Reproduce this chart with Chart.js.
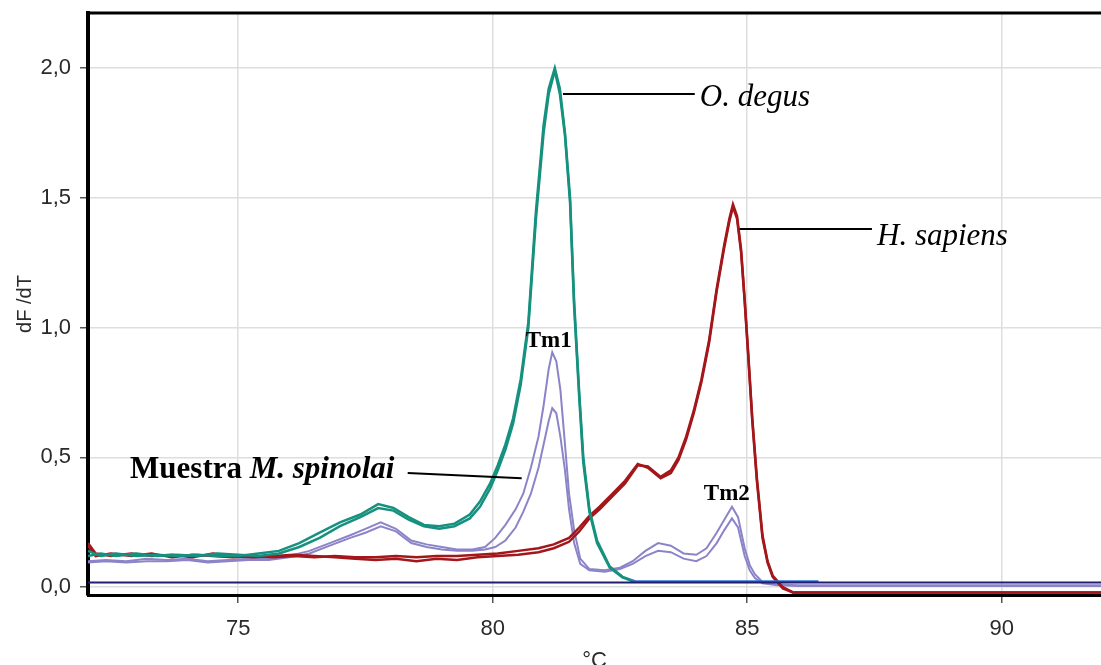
<!DOCTYPE html>
<html><head><meta charset="utf-8">
<script src="https://cdn.jsdelivr.net/npm/chart.js@4"></script>
<style>html,body{margin:0;padding:0;background:#fff}canvas{display:block}</style>
</head><body>
<canvas id="c" width="1101" height="665"></canvas>
<script>
// ---- tick values ----
const X_TICKS = [75, 80, 85, 90];
const Y_TICKS = [0, 0.5, 1, 1.5, 2];

// ---- O. degus (two replicates) ----
const DEGUS_T = [72.05,72.3,72.6,73.0,73.4,73.8,74.2,74.6,75.0,75.4,75.8,76.2,76.6,77.0,77.4,77.75,78.05,78.35,78.65,78.95,79.25,79.55,79.75,79.95,80.1,80.25,80.4,80.55,80.7,80.85,81.0,81.1,81.22,81.32,81.42,81.52,81.6,81.7,81.78,81.9,82.05,82.3,82.55,82.8];
const DEGUS_A = [0.14,0.12,0.13,0.12,0.125,0.12,0.125,0.12,0.12,0.13,0.14,0.17,0.21,0.25,0.28,0.32,0.305,0.27,0.24,0.235,0.245,0.28,0.33,0.40,0.47,0.55,0.65,0.80,1.02,1.45,1.78,1.92,2.0,1.92,1.75,1.5,1.1,0.75,0.5,0.3,0.18,0.08,0.04,0.022];
const DEGUS_B = [0.12,0.13,0.12,0.13,0.12,0.125,0.12,0.13,0.125,0.12,0.13,0.155,0.19,0.235,0.27,0.305,0.295,0.26,0.235,0.225,0.235,0.265,0.31,0.38,0.45,0.53,0.63,0.78,1.0,1.42,1.75,1.9,1.99,1.9,1.74,1.48,1.08,0.73,0.48,0.29,0.17,0.075,0.038,0.02];

// ---- H. sapiens (two replicates) ----
const SAPIENS_T = [72.05,72.2,72.5,72.9,73.3,73.7,74.1,74.5,74.9,75.3,75.7,76.1,76.5,76.9,77.3,77.7,78.1,78.5,78.9,79.3,79.7,80.1,80.5,80.9,81.2,81.5,81.7,81.9,82.1,82.35,82.6,82.85,83.05,83.3,83.5,83.65,83.8,83.95,84.1,84.25,84.4,84.55,84.65,84.72,84.8,84.88,84.95,85.02,85.1,85.19,85.3,85.4,85.5,85.7,85.9,86.5,87.5,88.5,89.5,90.5,91.5,91.95];
const SAPIENS_A = [0.17,0.13,0.12,0.13,0.12,0.125,0.115,0.13,0.12,0.115,0.12,0.125,0.12,0.115,0.11,0.105,0.11,0.10,0.11,0.105,0.115,0.12,0.125,0.135,0.15,0.175,0.215,0.265,0.30,0.35,0.40,0.47,0.465,0.425,0.45,0.50,0.58,0.68,0.80,0.95,1.15,1.32,1.42,1.475,1.43,1.3,1.11,0.9,0.65,0.42,0.2,0.1,0.045,0.0,-0.02,-0.02,-0.02,-0.02,-0.02,-0.02,-0.02,-0.02];
const SAPIENS_B = [0.16,0.12,0.13,0.12,0.13,0.115,0.125,0.12,0.115,0.12,0.115,0.12,0.115,0.12,0.115,0.115,0.12,0.115,0.12,0.12,0.125,0.13,0.14,0.15,0.165,0.19,0.23,0.275,0.31,0.36,0.41,0.475,0.46,0.42,0.44,0.49,0.57,0.67,0.79,0.94,1.14,1.31,1.41,1.465,1.42,1.29,1.1,0.89,0.64,0.41,0.19,0.095,0.04,-0.005,-0.02,-0.02,-0.02,-0.02,-0.02,-0.02,-0.02,-0.02];

// ---- Muestra M. spinolai (two replicates) ----
const SPINOLAI_T = [72.05,72.4,72.8,73.2,73.6,74.0,74.4,74.8,75.2,75.6,76.0,76.4,76.8,77.2,77.5,77.8,78.1,78.4,78.7,79.0,79.3,79.6,79.85,80.05,80.25,80.45,80.6,80.75,80.9,81.0,81.1,81.17,81.25,81.33,81.42,81.5,81.6,81.72,81.9,82.2,82.5,82.75,83.0,83.25,83.5,83.75,84.0,84.2,84.4,84.55,84.7,84.82,84.95,85.05,85.15,85.3,85.6,86.0,87.0,88.0,89.0,90.0,91.0,91.95];
const SPINOLAI_A = [0.10,0.105,0.10,0.11,0.105,0.11,0.10,0.105,0.11,0.11,0.12,0.14,0.17,0.2,0.225,0.25,0.225,0.18,0.165,0.155,0.145,0.145,0.155,0.19,0.24,0.3,0.36,0.46,0.58,0.7,0.84,0.905,0.87,0.76,0.55,0.36,0.22,0.11,0.07,0.065,0.075,0.1,0.14,0.17,0.16,0.13,0.125,0.15,0.21,0.26,0.31,0.27,0.15,0.085,0.05,0.02,0.01,0.008,0.008,0.008,0.008,0.008,0.008,0.008];
const SPINOLAI_B = [0.095,0.10,0.095,0.10,0.10,0.105,0.095,0.10,0.105,0.105,0.115,0.13,0.16,0.19,0.21,0.235,0.215,0.17,0.155,0.145,0.14,0.14,0.145,0.155,0.18,0.23,0.29,0.36,0.46,0.55,0.64,0.69,0.67,0.58,0.45,0.3,0.17,0.09,0.065,0.06,0.07,0.09,0.12,0.14,0.135,0.11,0.10,0.12,0.17,0.22,0.265,0.23,0.12,0.065,0.035,0.015,0.008,0.005,0.005,0.005,0.005,0.005,0.005,0.005];

// ---- baselines ----
const BASELINE_T = [72.05, 91.95];
const BASELINE_V = [0.018, 0.018];
const NTC_T = [82.7, 86.4];
const NTC_V = [0.022, 0.022];

const pts = (T, V) => T.map((t, i) => ({x: t, y: V[i]}));

const COL_TEAL = '#16917f', COL_RED = '#a3171b', COL_LAV = '#8c84c8', COL_NAVY = '#1f1f6e', COL_BLUE = '#2c6fd4';
const line = (data, color, w) => ({data, borderColor: color, borderWidth: w, pointRadius: 0, fill: false, tension: 0});

const SERIF = '"Liberation Serif", "Times New Roman", serif';
const SANS = '"Liberation Sans", Arial, sans-serif';

const annot = {
  id: 'annot',
  afterDatasetsDraw(chart) {
    const {ctx, scales: {x, y}} = chart;
    const P = (t, v) => [x.getPixelForValue(t), y.getPixelForValue(v)];
    ctx.save();
    ctx.strokeStyle = '#000'; ctx.lineWidth = 2;
    const seg = (a, b) => { ctx.beginPath(); ctx.moveTo(...P(...a)); ctx.lineTo(...P(...b)); ctx.stroke(); };
    seg([81.38, 1.90], [83.97, 1.90]);
    seg([84.85, 1.38], [87.45, 1.38]);
    seg([78.33, 0.44], [80.57, 0.42]);
    ctx.fillStyle = '#000'; ctx.textBaseline = 'middle';
    ctx.font = 'italic 31px ' + SERIF;
    ctx.textAlign = 'left';
    ctx.fillText('O. degus', ...P(84.07, 1.885));
    ctx.fillText('H. sapiens', ...P(87.55, 1.35));
    // Muestra M. spinolai (right-aligned)
    const [mx, my] = P(78.07, 0.45);
    ctx.font = 'bold italic 31px ' + SERIF;
    const w2 = ctx.measureText('M. spinolai').width;
    ctx.fillText('M. spinolai', mx - w2, my);
    ctx.font = 'bold 31px ' + SERIF;
    const w1 = ctx.measureText('Muestra ').width;
    ctx.fillText('Muestra ', mx - w2 - w1, my);
    ctx.font = 'bold 23px ' + SERIF;
    ctx.textAlign = 'center';
    ctx.fillText('Tm1', ...P(81.1, 0.95));
    ctx.fillText('Tm2', ...P(84.6, 0.36));
    ctx.restore();
  }
};
const topBorder = {
  id: 'topBorder',
  afterDraw(chart) {
    const {ctx, chartArea: a} = chart;
    ctx.save(); ctx.strokeStyle = '#000'; ctx.lineWidth = 3;
    ctx.beginPath(); ctx.moveTo(a.left - 2, a.top); ctx.lineTo(a.right, a.top); ctx.stroke();
    ctx.restore();
  }
};

new Chart(document.getElementById('c'), {
  type: 'line',
  data: {
    datasets: [
      line(pts(BASELINE_T, BASELINE_V), COL_NAVY, 2),
      line(pts(NTC_T, NTC_V), COL_BLUE, 2.5),
      line(pts(DEGUS_T, DEGUS_A), COL_TEAL, 2.5),
      line(pts(DEGUS_T, DEGUS_B), COL_TEAL, 2.5),
      line(pts(SAPIENS_T, SAPIENS_A), COL_RED, 2.5),
      line(pts(SAPIENS_T, SAPIENS_B), COL_RED, 2.5),
      line(pts(SPINOLAI_T, SPINOLAI_A), COL_LAV, 2),
      line(pts(SPINOLAI_T, SPINOLAI_B), COL_LAV, 2)
    ]
  },
  options: {
    responsive: false, animation: false, devicePixelRatio: 1,
    layout: {padding: {top: 13, right: 0, left: 0, bottom: 0}},
    plugins: {legend: {display: false}, tooltip: {enabled: false}},
    scales: {
      x: {
        type: 'linear', min: 72.05, max: 91.95,
        afterBuildTicks: s => { s.ticks = X_TICKS.map(v => ({value: v})); },
        afterFit: s => { s.height = 70; s.paddingLeft = 0; s.paddingRight = 0; },
        ticks: {color: '#2a2a2a', font: {family: SANS, size: 22}, padding: 13},
        grid: {color: '#dedede', lineWidth: 1.5, tickLength: 8, tickColor: '#555'},
        border: {color: '#000', width: 3},
        title: {display: true, text: '°C', color: '#2a2a2a', font: {family: SANS, size: 22}, padding: {top: 0, bottom: -9}}
      },
      y: {
        type: 'linear', min: -0.03, max: 2.212,
        afterBuildTicks: s => { s.ticks = Y_TICKS.map(v => ({value: v})); },
        afterFit: s => { s.width = 88; s.paddingTop = 0; s.paddingBottom = 0; },
        ticks: {color: '#2a2a2a', font: {family: SANS, size: 22}, padding: 9,
          callback: v => v.toFixed(1).replace('.', ',')},
        grid: {color: '#dedede', lineWidth: 1.5, tickLength: 8, tickColor: '#555'},
        border: {color: '#000', width: 4},
        title: {display: true, text: 'dF /dT', color: '#2a2a2a', font: {family: SANS, size: 20}, padding: {top: 13, bottom: 0}}
      }
    }
  },
  plugins: [annot, topBorder]
});
</script>
</body></html>
